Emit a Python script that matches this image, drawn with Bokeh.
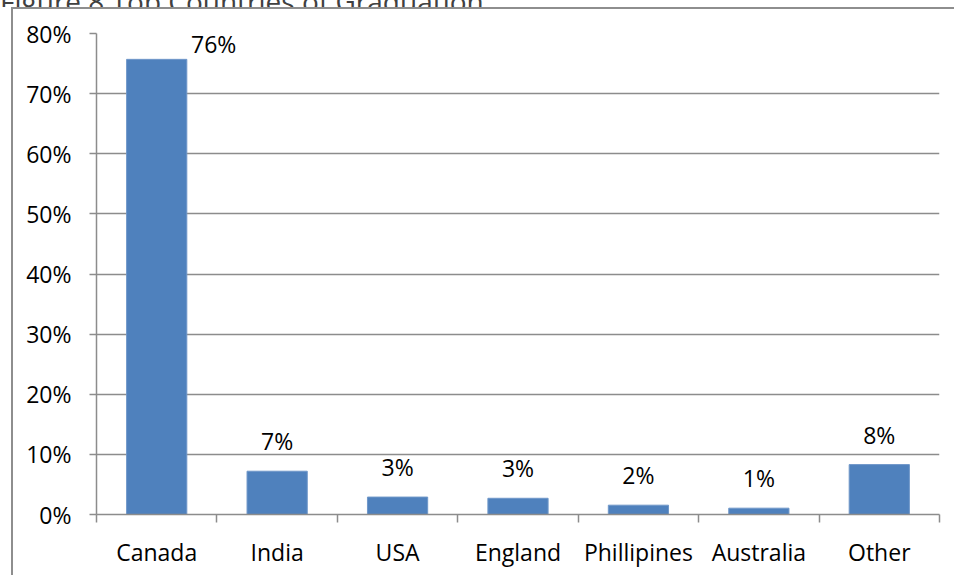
from bokeh.plotting import figure
from bokeh.models import (FixedTicker, NumeralTickFormatter, ColumnDataSource, Range1d,
                          LinearAxis, Div)
from bokeh.layouts import column
from bokeh.core.properties import value
from bokeh.embed import file_html
from bokeh.resources import INLINE

# ---- data ----
countries = ["Canada", "India", "USA", "England", "Phillipines", "Australia", "Other"]
shares = [0.757, 0.072, 0.029, 0.027, 0.0155, 0.0105, 0.083]
y_ticks = [0.0, 0.1, 0.2, 0.3, 0.4, 0.5, 0.6, 0.7, 0.8]
title_text = "Figure 8 Top Countries of Graduation"

# ---- style ----
FONT = "Open Sans"
FSIZE = "23px"
BAR = "#4F81BD"
GRID = "#8c8c8c"
label_dx = [57, 0, 0, 0, 0, 0, 0]
label_dy = [-15, -30, -30, -30, -30, -30, -30]

n = len(countries)
centers = [i + 0.5 for i in range(n)]
labels = [f"{round(v * 100):d}%" for v in shares]
src = ColumnDataSource(dict(x=centers, top=shares, lab=labels, dx=label_dx, dy=label_dy))

p = figure(width=943, height=568, output_backend="svg", toolbar_location=None,
           x_range=Range1d(0, n), y_range=Range1d(0, 0.8),
           min_border_left=83, min_border_right=17, min_border_top=24, min_border_bottom=63,
           x_axis_location=None, y_axis_location=None)
p.outline_line_color = None
p.margin = (0, 0, 0, 11)
p.styles = {"border-left": "2px solid #8e8e8e", "border-top": "2px solid #8e8e8e"}

p.vbar(x="x", top="top", width=0.5, bottom=0, source=src,
       fill_color=BAR, line_color="#6f97c9", line_width=1)
p.text(x="x", y="top", text="lab", source=src, x_offset="dx", y_offset="dy",
       text_align="center", text_baseline="alphabetic",
       text_font=value(FONT), text_font_size=FSIZE, text_color="#000000")

yax = LinearAxis(ticker=FixedTicker(ticks=y_ticks), formatter=NumeralTickFormatter(format="0%"))
yax.axis_line_color = GRID
yax.axis_line_width = 1.5
yax.major_tick_line_color = GRID
yax.major_tick_line_width = 1.5
yax.major_tick_out = 7
yax.major_tick_in = 0
yax.minor_tick_line_color = None
yax.major_label_standoff = 18
yax.major_label_text_font = FONT
yax.major_label_text_font_size = FSIZE
yax.major_label_text_color = "#000000"
p.add_layout(yax, "left")

xax = LinearAxis(ticker=FixedTicker(ticks=centers, minor_ticks=list(range(n + 1))),
                 major_label_overrides={c: name for c, name in zip(centers, countries)})
xax.axis_line_color = GRID
xax.axis_line_width = 1.5
xax.major_tick_line_color = None
xax.major_tick_out = 8
xax.major_tick_in = 0
xax.minor_tick_line_color = GRID
xax.minor_tick_line_width = 1.5
xax.minor_tick_out = 8
xax.minor_tick_in = 0
xax.major_label_standoff = 13
xax.major_label_text_font = FONT
xax.major_label_text_font_size = FSIZE
xax.major_label_text_color = "#000000"
p.add_layout(xax, "below")

p.xgrid.visible = False
p.ygrid.ticker = FixedTicker(ticks=y_ticks)
p.ygrid.grid_line_color = GRID
p.ygrid.grid_line_width = 1.5

# title strip, cut off at the top of the page as in the source image
title = Div(text=('<div style="margin-top:-18px; white-space:nowrap; font-family:\'Open Sans\';'
                  ' font-size:28px; line-height:28px; color:#404040;">' + title_text + '</div>'),
            width=956, height=7, margin=(0, 0, 0, 0), styles={"overflow": "hidden"})

root = column(title, p, spacing=0)
open("out.html", "w").write(file_html(root, INLINE))
